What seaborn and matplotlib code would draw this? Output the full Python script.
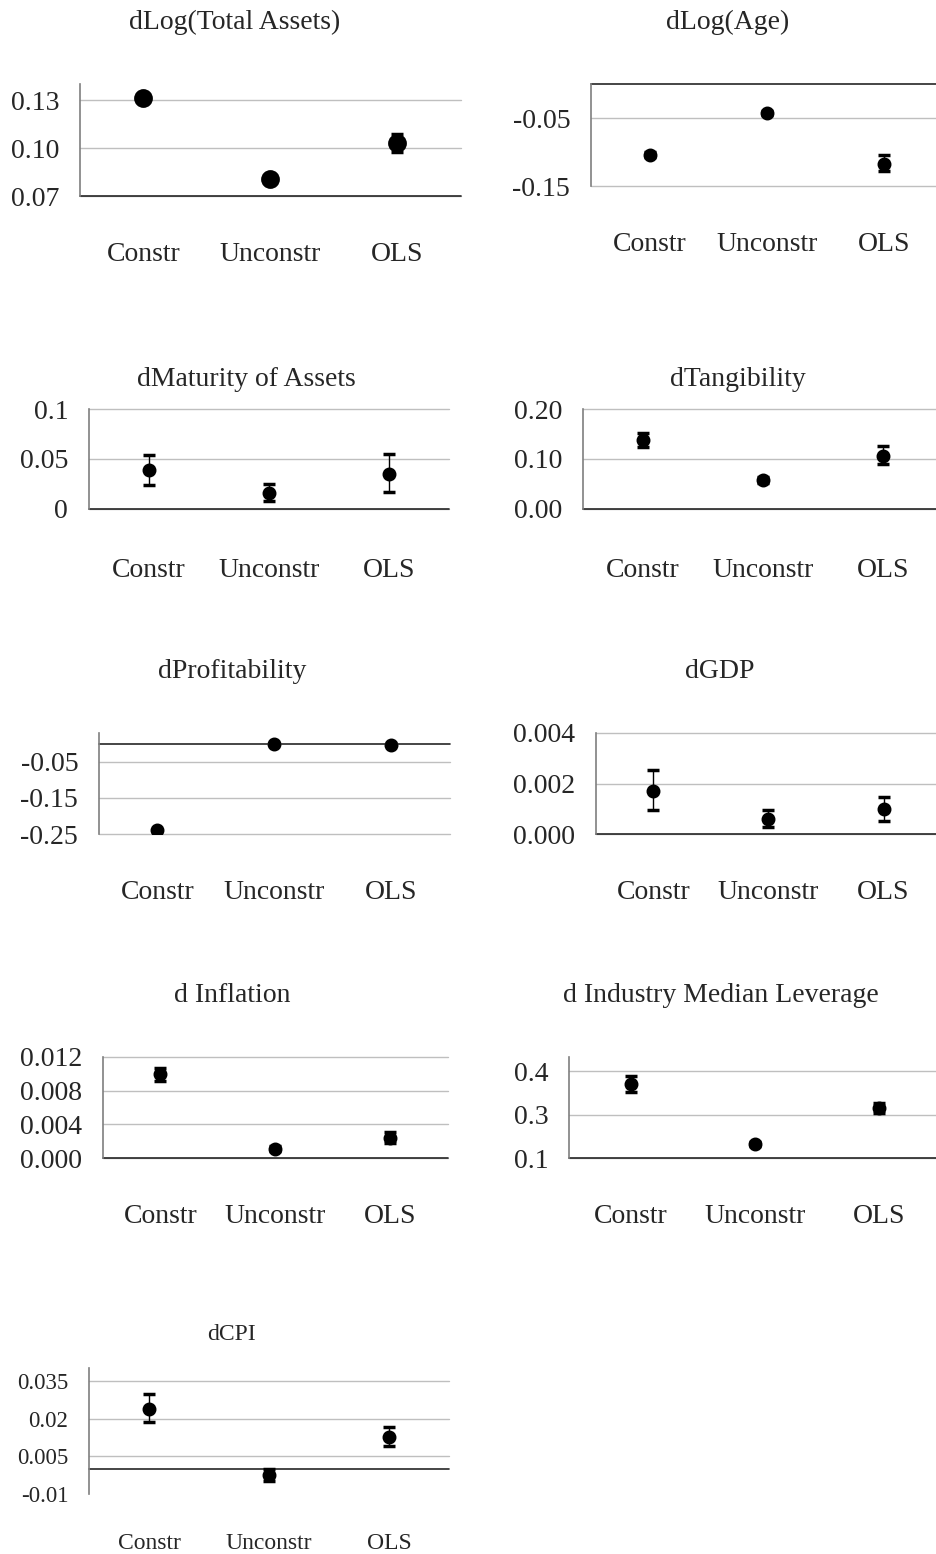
import numpy as np
import pandas as pd
import matplotlib.pyplot as plt
import seaborn as sns

# categories shared by every panel
cats = ['Constr', 'Unconstr', 'OLS']

# point estimates with lower / upper bounds
assets_est = [0.131, 0.0805, 0.103]
assets_lo = [0.1295, 0.0790, 0.0975]
assets_hi = [0.1325, 0.0820, 0.1085]

age_est = [-0.104, -0.043, -0.117]
age_lo = [-0.108, -0.046, -0.128]
age_hi = [-0.100, -0.040, -0.105]

maturity_est = [0.0394, 0.0163, 0.0353]
maturity_lo = [0.0243, 0.0077, 0.0170]
maturity_hi = [0.0537, 0.0250, 0.0547]

tang_est = [0.138, 0.058, 0.107]
tang_lo = [0.124, 0.052, 0.090]
tang_hi = [0.153, 0.064, 0.127]

profit_est = [-0.240, -0.001, -0.002]
profit_lo = [-0.242, -0.002, -0.003]
profit_hi = [-0.238, 0.000, -0.001]

gdp_est = [0.0017, 0.0006, 0.00099]
gdp_lo = [0.00094, 0.00028, 0.0005]
gdp_hi = [0.00253, 0.00096, 0.00147]

infl_est = [0.00997, 0.0011, 0.0024]
infl_lo = [0.0091, 0.0008, 0.0018]
infl_hi = [0.0107, 0.0014, 0.0031]

lev_est = [0.357, 0.148, 0.274]
lev_lo = [0.328, 0.142, 0.257]
lev_hi = [0.385, 0.154, 0.291]

cpi_est = [0.0240, -0.0023, 0.0129]
cpi_lo = [0.0186, -0.0047, 0.0091]
cpi_hi = [0.0298, 0.0000, 0.0168]

sns.set_theme(style='white')
plt.rcParams['font.family'] = ['Liberation Serif', 'DejaVu Serif']

W, H = 937, 1554
fig = plt.figure(figsize=(W / 100, H / 100), dpi=100)


def draw_panel(box, title, title_pos, est, lo, hi, ticks, ticklabels, ylim,
               tick_fs=20, cat_fs=20, title_fs=20, ms=8, xpad=33, hide_bottom_grid=False):
    l, t, r, b = box
    ax = fig.add_axes([l / W, 1 - b / H, (r - l) / W, (b - t) / H])
    df = pd.DataFrame({'group': cats, 'value': est})
    sns.pointplot(data=df, x='group', y='value', order=cats, color='black',
                  linestyle='none', marker='o', markersize=ms, errorbar=None, ax=ax)
    est = np.array(est)
    yerr = [est - np.array(lo), np.array(hi) - est]
    ax.errorbar(range(len(cats)), est, yerr=yerr, fmt='none', ecolor='black',
                elinewidth=1, capsize=4.5, capthick=2.5, zorder=3)
    ax.set_xlim(-0.5, 2.5)
    ax.set_ylim(ylim)
    ax.set_yticks(ticks)
    ax.set_yticklabels(ticklabels)
    ax.yaxis.grid(True, color='#bfbfbf', lw=1)
    for gl in ax.get_ygridlines():
        gl.set_clip_on(False)
    if hide_bottom_grid:
        ax.get_ygridlines()[0].set_visible(False)
    ax.set_axisbelow(True)
    # horizontal axis sits at zero, or at the minimum when zero is off the scale
    base = 0 if ylim[0] <= 0 <= ylim[1] else ylim[0]
    ax.axhline(base, color='#262626', lw=1.2, zorder=2, clip_on=False)
    for side in ['top', 'right', 'bottom']:
        ax.spines[side].set_visible(False)
    ax.spines['left'].set_color('#7f7f7f')
    ax.spines['left'].set_linewidth(1.2)
    ax.tick_params(axis='y', length=0, pad=15, labelsize=tick_fs)
    ax.tick_params(axis='x', length=0, pad=xpad, labelsize=cat_fs)
    ax.set_xlabel('')
    ax.set_ylabel('')
    fig.text(title_pos[0] / W, 1 - title_pos[1] / H, title, ha='center', va='center',
             fontsize=title_fs)
    return ax


draw_panel((80, 84, 461, 196), 'dLog(Total Assets)', (235, 22),
           assets_est, assets_lo, assets_hi,
           [0.07, 0.10, 0.13], ['0.07', '0.10', '0.13'], (0.07, 0.14), ms=11.5)
draw_panel((591, 84, 943, 186), 'dLog(Age)', (728, 22),
           age_est, age_lo, age_hi,
           [-0.15, -0.05], ['-0.15', '-0.05'], (-0.15, 0.0))
draw_panel((89, 409, 449, 509), 'dMaturity of Assets', (246, 380),
           maturity_est, maturity_lo, maturity_hi,
           [0, 0.05, 0.1], ['0', '0.05', '0.1'], (0, 0.1), xpad=35)
draw_panel((583, 409, 943, 509), 'dTangibility', (738, 380),
           tang_est, tang_lo, tang_hi,
           [0, 0.1, 0.2], ['0.00', '0.10', '0.20'], (0, 0.2), xpad=35)
draw_panel((99, 733, 450, 834), 'dProfitability', (232, 672),
           profit_est, profit_lo, profit_hi,
           [-0.25, -0.15, -0.05], ['-0.25', '-0.15', '-0.05'], (-0.25, 0.03))
draw_panel((596, 733, 941, 834), 'dGDP', (720, 672),
           gdp_est, gdp_lo, gdp_hi,
           [0, 0.002, 0.004], ['0.000', '0.002', '0.004'], (0, 0.004))
draw_panel((103, 1057, 448, 1158), 'd Inflation', (232, 995),
           infl_est, infl_lo, infl_hi,
           [0, 0.004, 0.008, 0.012], ['0.000', '0.004', '0.008', '0.012'], (0, 0.012))
draw_panel((569, 1057, 941, 1158), 'd Industry Median Leverage', (721, 995),
           lev_est, lev_lo, lev_hi,
           [0.10, 0.25, 0.40], ['0.1', '0.3', '0.4'], (0.10, 0.45))
draw_panel((89, 1368, 449, 1494), 'dCPI', (232, 1335),
           cpi_est, cpi_lo, cpi_hi,
           [-0.01, 0.005, 0.02, 0.035], ['-0.01', '0.005', '0.02', '0.035'], (-0.01, 0.0402),
           tick_fs=16.5, cat_fs=17, title_fs=17, xpad=28, hide_bottom_grid=True)

fig.savefig('out.png', dpi=100)
